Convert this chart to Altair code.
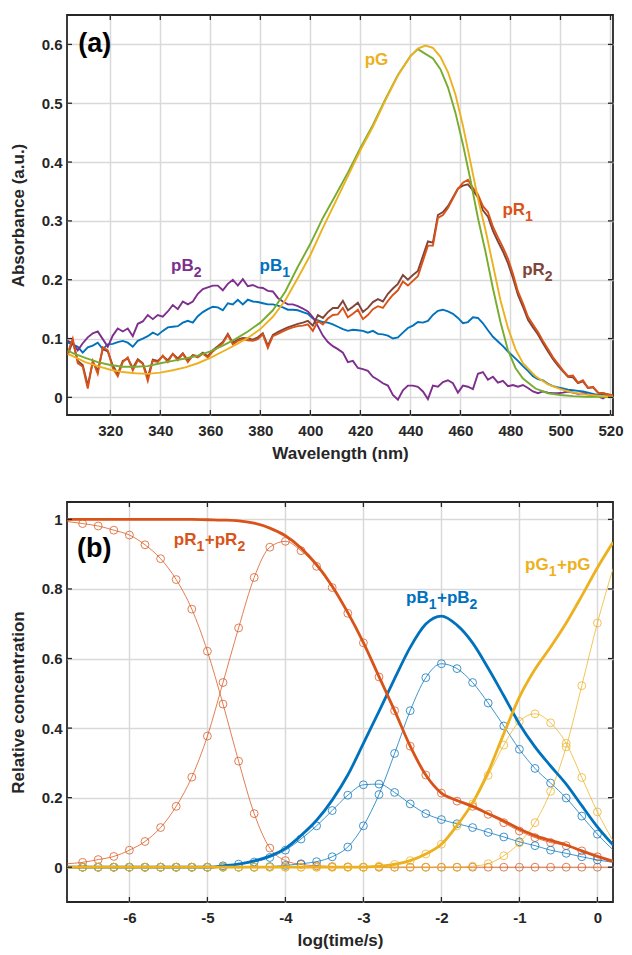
import altair as alt
import pandas as pd

FONT = "Liberation Sans"
INK = "#262626"
C_ORANGE = "#D95319"
C_BLUE = "#0072BD"
C_YELLOW = "#EDB120"
C_PURPLE = "#7E2F8E"
C_GREEN = "#77AC30"
C_BROWN = "#7F4538"

# ---------------- Panel (a): absorbance spectra ----------------
wl_noisy = list(range(303, 522, 2))

pB2 = [0.096, 0.092, 0.080, 0.092, 0.102, 0.109, 0.112, 0.099, 0.086, 0.105,
       0.117, 0.112, 0.117, 0.104, 0.125, 0.129, 0.140, 0.133, 0.140, 0.137,
       0.146, 0.157, 0.150, 0.163, 0.158, 0.163, 0.176, 0.184, 0.187, 0.190,
       0.190, 0.182, 0.193, 0.200, 0.190, 0.201, 0.189, 0.191, 0.187, 0.186,
       0.181, 0.180, 0.169, 0.163, 0.158, 0.158, 0.155, 0.151, 0.146, 0.136,
       0.121, 0.105, 0.094, 0.087, 0.082, 0.076, 0.060, 0.062, 0.050, 0.048,
       0.045, 0.035, 0.030, 0.024, 0.020, 0.004, -0.004, 0.012, 0.020, 0.020,
       0.018, 0.010, -0.003, 0.020, 0.018, 0.026, 0.029, 0.024, 0.008, 0.020,
       0.018, 0.014, 0.040, 0.043, 0.030, 0.035, 0.025, 0.028, 0.019, 0.021,
       0.018, 0.021, 0.016, 0.010, 0.007, 0.010, 0.008, 0.007, 0.007, 0.008,
       0.010, 0.008, 0.006, 0.007, 0.005, 0.004, 0.002, -0.002, 0.004, 0.003]

pB1 = [0.093, 0.090, 0.086, 0.076, 0.085, 0.088, 0.093, 0.082, 0.090, 0.091,
       0.094, 0.096, 0.093, 0.086, 0.096, 0.100, 0.104, 0.110, 0.106, 0.113,
       0.119, 0.120, 0.121, 0.127, 0.130, 0.127, 0.138, 0.145, 0.150, 0.154,
       0.153, 0.148, 0.160, 0.158, 0.166, 0.158, 0.166, 0.163, 0.162, 0.160,
       0.158, 0.158, 0.156, 0.153, 0.149, 0.149, 0.148, 0.145, 0.142, 0.134,
       0.131, 0.128, 0.127, 0.124, 0.120, 0.116, 0.113, 0.115, 0.114, 0.113,
       0.110, 0.113, 0.108, 0.107, 0.105, 0.100, 0.102, 0.110, 0.118, 0.122,
       0.128, 0.127, 0.130, 0.140, 0.147, 0.149, 0.146, 0.142, 0.135, 0.126,
       0.128, 0.136, 0.135, 0.126, 0.114, 0.103, 0.095, 0.087, 0.078, 0.070,
       0.062, 0.053, 0.045, 0.036, 0.031, 0.029, 0.023, 0.019, 0.017, 0.015,
       0.013, 0.012, 0.011, 0.010, 0.008, 0.006, 0.004, 0.004, 0.003, 0.002]

pR1 = [0.075, 0.100, 0.058, 0.052, 0.015, 0.062, 0.040, 0.085, 0.080, 0.050,
       0.036, 0.060, 0.068, 0.046, 0.063, 0.057, 0.028, 0.062, 0.060, 0.071,
       0.060, 0.074, 0.063, 0.074, 0.060, 0.071, 0.068, 0.074, 0.068, 0.078,
       0.085, 0.092, 0.106, 0.090, 0.096, 0.099, 0.097, 0.096, 0.099, 0.107,
       0.084, 0.104, 0.108, 0.112, 0.116, 0.119, 0.121, 0.122, 0.124, 0.113,
       0.130, 0.124, 0.134, 0.140, 0.141, 0.152, 0.136, 0.142, 0.149, 0.133,
       0.140, 0.150, 0.155, 0.152, 0.164, 0.174, 0.182, 0.197, 0.190, 0.198,
       0.206, 0.232, 0.258, 0.258, 0.305, 0.310, 0.322, 0.338, 0.354, 0.365,
       0.370, 0.356, 0.345, 0.325, 0.315, 0.290, 0.272, 0.255, 0.236, 0.210,
       0.180, 0.160, 0.137, 0.124, 0.111, 0.096, 0.082, 0.068, 0.057, 0.046,
       0.036, 0.037, 0.025, 0.029, 0.016, 0.018, 0.008, 0.007, 0.005, 0.003]

pR2 = [0.072, 0.095, 0.062, 0.055, 0.020, 0.060, 0.045, 0.082, 0.078, 0.054,
       0.040, 0.062, 0.066, 0.050, 0.065, 0.058, 0.034, 0.064, 0.062, 0.070,
       0.063, 0.074, 0.066, 0.075, 0.063, 0.072, 0.070, 0.076, 0.070, 0.080,
       0.087, 0.094, 0.108, 0.093, 0.098, 0.101, 0.100, 0.098, 0.102, 0.109,
       0.088, 0.106, 0.111, 0.115, 0.119, 0.122, 0.125, 0.127, 0.130, 0.122,
       0.140, 0.135, 0.145, 0.152, 0.152, 0.164, 0.148, 0.154, 0.161, 0.145,
       0.152, 0.162, 0.167, 0.163, 0.176, 0.185, 0.193, 0.208, 0.200, 0.208,
       0.215, 0.240, 0.265, 0.263, 0.310, 0.315, 0.325, 0.340, 0.355, 0.360,
       0.362, 0.352, 0.340, 0.318, 0.307, 0.283, 0.265, 0.248, 0.228, 0.203,
       0.174, 0.154, 0.132, 0.119, 0.107, 0.092, 0.078, 0.065, 0.054, 0.044,
       0.035, 0.034, 0.024, 0.027, 0.016, 0.017, 0.008, 0.007, 0.005, 0.003]

wl_smooth = [303, 305, 310, 315, 320, 325, 330, 335, 340, 345, 350, 355, 360,
             365, 370, 375, 380, 385, 390, 395, 400, 405, 410, 415, 420, 425,
             430, 435, 440, 443, 446, 449, 452, 455, 458, 461, 464, 467, 470,
             473, 476, 479, 482, 485, 490, 495, 500, 505, 510, 515, 521]

pG = [0.074, 0.070, 0.060, 0.053, 0.047, 0.043, 0.041, 0.040, 0.042, 0.046,
      0.051, 0.058, 0.067, 0.078, 0.089, 0.101, 0.116, 0.137, 0.165, 0.203,
      0.242, 0.288, 0.332, 0.376, 0.420, 0.460, 0.505, 0.547, 0.580, 0.593,
      0.598, 0.594, 0.579, 0.553, 0.515, 0.462, 0.400, 0.338, 0.285, 0.225,
      0.165, 0.118, 0.082, 0.058, 0.036, 0.022, 0.014, 0.008, 0.005, 0.003,
      0.001]

pG1 = [0.080, 0.075, 0.067, 0.060, 0.055, 0.052, 0.052, 0.053, 0.058, 0.062,
       0.066, 0.071, 0.078, 0.088, 0.099, 0.112, 0.127, 0.148, 0.180, 0.222,
       0.261, 0.305, 0.343, 0.382, 0.424, 0.463, 0.507, 0.548, 0.580, 0.592,
       0.584, 0.576, 0.558, 0.527, 0.484, 0.430, 0.370, 0.305, 0.248, 0.185,
       0.128, 0.080, 0.050, 0.032, 0.015, 0.007, 0.004, 0.002, 0.001, 0.001,
       0.000]

a_xticks = [320, 340, 360, 380, 400, 420, 440, 460, 480, 500, 520]
a_yticks = [0, 0.1, 0.2, 0.3, 0.4, 0.5, 0.6]

# label: anchor (data coords of left end of the baseline), pieces of (text, is_subscript)
a_labels = [
    {"x": 307.2, "y": 0.587, "parts": [("(a)", False)], "color": "#000000", "size": 27},
    {"x": 421.7, "y": 0.565, "parts": [("pG", False)], "color": C_YELLOW, "size": 17},
    {"x": 476.8, "y": 0.310, "parts": [("pR", False), ("1", True)], "color": C_ORANGE, "size": 17},
    {"x": 484.7, "y": 0.208, "parts": [("pR", False), ("2", True)], "color": C_BROWN, "size": 17},
    {"x": 344.3, "y": 0.214, "parts": [("pB", False), ("2", True)], "color": C_PURPLE, "size": 17},
    {"x": 379.7, "y": 0.214, "parts": [("pB", False), ("1", True)], "color": C_BLUE, "size": 17},
]

# ---------------- Panel (b): relative concentrations ----------------
logt = [-6.8, -6.6, -6.4, -6.2, -6.0, -5.8, -5.6, -5.4, -5.2, -5.0, -4.8, -4.6,
        -4.4, -4.2, -4.0, -3.8, -3.6, -3.4, -3.2, -3.0, -2.8, -2.6, -2.4, -2.2,
        -2.0, -1.8, -1.6, -1.4, -1.2, -1.0, -0.8, -0.6, -0.4, -0.2, 0.0, 0.2]

cR1 = [0.994, 0.988, 0.981, 0.969, 0.955, 0.927, 0.887, 0.827, 0.742, 0.621,
       0.469, 0.305, 0.154, 0.055, 0.019, 0.008, 0.004, 0.002, 0.001, 0.0,
       0.0, 0.0, 0.0, 0.0, 0.0, 0.0, 0.0, 0.0, 0.0, 0.0,
       0.0, 0.0, 0.0, 0.0, 0.0, 0.0]
cR2 = [0.010, 0.014, 0.022, 0.031, 0.049, 0.074, 0.114, 0.175, 0.259, 0.377,
       0.531, 0.688, 0.833, 0.920, 0.937, 0.910, 0.865, 0.804, 0.730, 0.645,
       0.547, 0.450, 0.348, 0.265, 0.213, 0.190, 0.175, 0.152, 0.128, 0.104,
       0.085, 0.071, 0.062, 0.047, 0.030, 0.015]
cB1 = [0.0, 0.0, 0.0, 0.0, 0.0, 0.0, 0.0, 0.0, 0.0, 0.0,
       0.004, 0.009, 0.015, 0.028, 0.049, 0.081, 0.119, 0.163, 0.207, 0.237,
       0.239, 0.215, 0.182, 0.154, 0.137, 0.125, 0.114, 0.100, 0.087, 0.073,
       0.062, 0.049, 0.040, 0.030, 0.021, 0.014]
cB2 = [0.0, 0.0, 0.0, 0.0, 0.0, 0.0, 0.0, 0.0, 0.0, 0.0,
       0.0, 0.0, 0.0, 0.002, 0.005, 0.010, 0.016, 0.030, 0.058, 0.119,
       0.209, 0.327, 0.450, 0.545, 0.585, 0.571, 0.531, 0.472, 0.406, 0.339,
       0.284, 0.242, 0.199, 0.147, 0.095, 0.050]
cG1 = [0.0, 0.0, 0.0, 0.0, 0.0, 0.0, 0.0, 0.0, 0.0, 0.0,
       0.0, 0.0, 0.0, 0.0, 0.0, 0.0, 0.0, 0.0, 0.0, 0.0,
       0.003, 0.008, 0.019, 0.038, 0.066, 0.119, 0.182, 0.264, 0.351, 0.419,
       0.441, 0.415, 0.356, 0.258, 0.159, 0.076]
cG = [0.0, 0.0, 0.0, 0.0, 0.0, 0.0, 0.0, 0.0, 0.0, 0.0,
      0.0, 0.0, 0.0, 0.0, 0.0, 0.0, 0.0, 0.0, 0.0, 0.0,
      0.0, 0.0, 0.0, 0.0, 0.0, 0.0, 0.003, 0.010, 0.033, 0.070,
      0.128, 0.218, 0.346, 0.522, 0.702, 0.858]

sumR = [1.0, 1.0, 1.0, 1.0, 1.0, 1.0, 1.0, 1.0, 1.0, 0.999,
        0.998, 0.996, 0.989, 0.975, 0.953, 0.918, 0.870, 0.808, 0.732, 0.646,
        0.548, 0.450, 0.348, 0.265, 0.213, 0.192, 0.175, 0.154, 0.133, 0.110,
        0.091, 0.077, 0.064, 0.047, 0.031, 0.017]
sumB = [0.0, 0.0, 0.0, 0.0, 0.0, 0.0, 0.0, 0.0, 0.0, 0.0,
        0.004, 0.009, 0.018, 0.032, 0.054, 0.091, 0.135, 0.193, 0.265, 0.356,
        0.448, 0.542, 0.632, 0.699, 0.722, 0.696, 0.645, 0.572, 0.493, 0.412,
        0.346, 0.291, 0.239, 0.177, 0.116, 0.064]
sumG = [0.0, 0.0, 0.0, 0.0, 0.0, 0.0, 0.0, 0.0, 0.0, 0.0,
        0.0, 0.0, 0.0, 0.0, 0.0, 0.0, 0.0, 0.0, 0.0, 0.0,
        0.003, 0.008, 0.019, 0.038, 0.066, 0.120, 0.185, 0.274, 0.384, 0.489,
        0.569, 0.633, 0.702, 0.780, 0.861, 0.934]

b_xticks = [-6, -5, -4, -3, -2, -1, 0]
b_yticks = [0, 0.2, 0.4, 0.6, 0.8, 1]

b_labels = [
    {"x": -6.672, "y": 0.893, "parts": [("(b)", False)], "color": "#000000", "size": 27},
    {"x": -5.43, "y": 0.927,
     "parts": [("pR", False), ("1", True), ("+pR", False), ("2", True)],
     "color": C_ORANGE, "size": 17},
    {"x": -2.453, "y": 0.759,
     "parts": [("pB", False), ("1", True), ("+pB", False), ("2", True)],
     "color": C_BLUE, "size": 17},
    {"x": -0.927, "y": 0.855,
     "parts": [("pG", False), ("1", True), ("+pG", False)],
     "color": C_YELLOW, "size": 17},
]

# ---------------- helpers ----------------
W, H = 546, 400
TICK = 5
SUB_SIZE = 14
SUB_DY = 6
# Arial/Liberation Sans Bold advance widths (per 1000 em) for positioning label pieces
ADV = {"p": 611, "R": 722, "B": 722, "G": 778, "+": 584, "(": 333, ")": 333,
       "a": 556, "b": 611, "1": 556, "2": 556}


def text_width(s, size):
    return sum(ADV.get(ch, 600) for ch in s) * size / 1000.0


def make_axis(title, values, label_expr):
    return alt.Axis(title=title, values=values, labelExpr=label_expr,
                    grid=True, ticks=False, domain=False)


def label_layers(labels, X, Y):
    out = []
    for lab in labels:
        dx = 0.0
        for txt, sub in lab["parts"]:
            size = SUB_SIZE if sub else lab["size"]
            df = pd.DataFrame({"x": [lab["x"]], "y": [lab["y"]], "t": [txt]})
            out.append(
                alt.Chart(df).mark_text(
                    align="left", baseline="alphabetic", font=FONT, fontWeight="bold",
                    fontSize=size, color=lab["color"], dx=dx, dy=SUB_DY if sub else 0
                ).encode(x=X, y=Y, text="t:N")
            )
            dx += text_width(txt, size) + (0.5 if sub else 0.0)
    return out


def panel(X, Y, xticks, yticks, line_layers, labels):
    tdx = pd.DataFrame({"x": xticks})
    tdy = pd.DataFrame({"y": yticks})
    rule = dict(color=INK, strokeWidth=1.3)
    ticks = [
        alt.Chart(tdx).mark_rule(**rule).encode(x=X, y=alt.value(0), y2=alt.value(TICK)),
        alt.Chart(tdx).mark_rule(**rule).encode(x=X, y=alt.value(H), y2=alt.value(H - TICK)),
        alt.Chart(tdy).mark_rule(**rule).encode(y=Y, x=alt.value(0), x2=alt.value(TICK)),
        alt.Chart(tdy).mark_rule(**rule).encode(y=Y, x=alt.value(W - TICK), x2=alt.value(W)),
    ]
    return alt.layer(*line_layers, *ticks, *label_layers(labels, X, Y)).properties(
        width=W, height=H)


# ---------------- panel (a) ----------------
Xa = alt.X("x:Q", scale=alt.Scale(domain=[302.7, 521], nice=False, zero=False),
           axis=make_axis("Wavelength (nm)", a_xticks, "format(datum.value, 'd')"))
Ya = alt.Y("y:Q", scale=alt.Scale(domain=[-0.03, 0.65], nice=False, zero=False),
           axis=make_axis("Absorbance (a.u.)", a_yticks,
                          "datum.value == 0 ? '0' : format(datum.value, '.1f')"))


def spec_line(x, y, color, width=1.9):
    df = pd.DataFrame({"x": x, "y": y})
    return alt.Chart(df).mark_line(color=color, strokeWidth=width, clip=True).encode(
        x=Xa, y=Ya)


a_lines = [
    spec_line(wl_noisy, pB1, C_BLUE),
    spec_line(wl_noisy, pB2, C_PURPLE),
    spec_line(wl_noisy, pR2, C_BROWN),
    spec_line(wl_noisy, pR1, C_ORANGE),
    spec_line(wl_smooth, pG1, C_GREEN),
    spec_line(wl_smooth, pG, C_YELLOW),
]
chart_a = panel(Xa, Ya, a_xticks, a_yticks, a_lines, a_labels)

# ---------------- panel (b) ----------------
Xb = alt.X("x:Q", scale=alt.Scale(domain=[-6.8, 0.2], nice=False, zero=False),
           axis=make_axis("log(time/s)", b_xticks,
                          "datum.value < 0 ? '-' + format(-datum.value, 'd') : format(datum.value, 'd')"))
Yb = alt.Y("y:Q", scale=alt.Scale(domain=[-0.1, 1.05], nice=False, zero=False),
           axis=make_axis("Relative concentration", b_yticks,
                          "datum.value == 0 ? '0' : datum.value == 1 ? '1' : format(datum.value, '.1f')"))


def thin_with_markers(y, color):
    df = pd.DataFrame({"x": logt, "y": y})
    mk = df[(df["x"] > -6.7) & (df["x"] < 0.1)]
    ln = alt.Chart(df).mark_line(color=color, strokeWidth=1, opacity=0.75,
                                 interpolate="monotone", clip=True).encode(x=Xb, y=Yb)
    pt = alt.Chart(mk).mark_point(shape="circle", filled=False, size=62, strokeWidth=1,
                                  color=color, opacity=0.75, clip=True).encode(x=Xb, y=Yb)
    return [ln, pt]


def thick(y, color):
    df = pd.DataFrame({"x": logt, "y": y})
    return alt.Chart(df).mark_line(color=color, strokeWidth=2.8,
                                   interpolate="monotone", clip=True).encode(x=Xb, y=Yb)


b_lines = (thin_with_markers(cR1, C_ORANGE) + thin_with_markers(cR2, C_ORANGE)
           + thin_with_markers(cB1, C_BLUE) + thin_with_markers(cB2, C_BLUE)
           + thin_with_markers(cG1, C_YELLOW) + thin_with_markers(cG, C_YELLOW)
           + [thick(sumB, C_BLUE), thick(sumG, C_YELLOW), thick(sumR, C_ORANGE)])
chart_b = panel(Xb, Yb, b_xticks, b_yticks, b_lines, b_labels)

chart = alt.vconcat(chart_a, chart_b, spacing=38).properties(
    padding={"left": 0, "top": 5, "right": 0, "bottom": 0}
).configure_view(
    stroke=INK, strokeWidth=1.8
).configure_axis(
    labelFont=FONT, labelFontSize=15, labelFontWeight="bold", labelColor=INK,
    titleFont=FONT, titleFontSize=17, titleFontWeight="bold",
    titleColor=INK, gridColor="#d9d9d9", gridWidth=1.5, gridOpacity=1
).configure_axisX(labelPadding=8, titlePadding=7
).configure_axisY(labelPadding=5, titlePadding=14)

chart.save("out.html", embed_options={"renderer": "svg", "actions": False})
